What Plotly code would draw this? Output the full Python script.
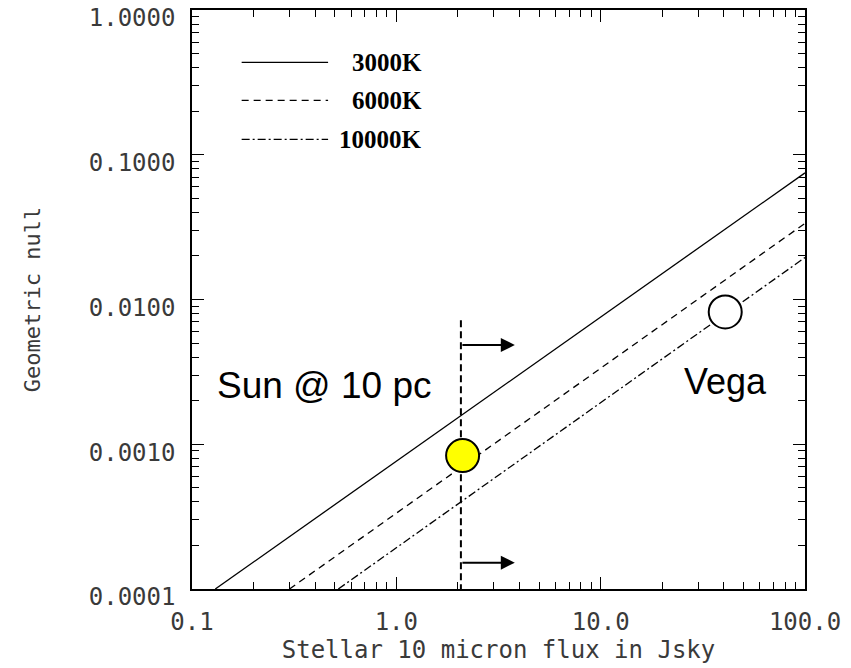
import numpy as np
import plotly.graph_objects as go

# ---- data ----
temps = ["3000K", "6000K", "10000K"]
flux_3000 = [0.13, 100.0]
null_3000 = [0.0001, 0.075]
flux_6000 = [0.30, 100.0]
null_6000 = [0.0001, 0.0336]
flux_10000 = [0.52, 100.0]
null_10000 = [0.0001, 0.0195]

sun_limit_flux = [2.07, 2.07]
sun_limit_null = [0.0072, 0.0001]

arrow_tail_flux = [2.07, 2.07]
arrow_head_flux = [3.8, 3.8]
arrow_null = [0.00485, 0.000152]

star_names = ["Sun @ 10 pc", "Vega"]
star_flux = [2.11, 40.7]
star_null = [0.000835, 0.0082]
star_fill = ["#FFFF00", "#FFFFFF"]

x_major = [0.1, 1, 10, 100]
x_major_text = ["0.1", "1.0", "10.0", "100.0"]
y_major = [0.0001, 0.001, 0.01, 0.1, 1]
y_major_text = ["0.0001", "0.0010", "0.0100", "0.1000", "1.0000"]

x_minor = [m * 10.0 ** e for e in range(-1, 2) for m in range(2, 10)]
y_minor = [m * 10.0 ** e for e in range(-4, 0) for m in range(2, 10)]

tick_font = dict(family="DejaVu Sans Mono", size=24, color="#3a3a3a")
xtitle_font = dict(family="DejaVu Sans Mono", size=24, color="#3a3a3a")
ytitle_font = dict(family="DejaVu Sans Mono", size=22, color="#3a3a3a")

fig = go.Figure()

line_styles = [
    (flux_3000, null_3000, "solid"),
    (flux_6000, null_6000, "7px,5px"),
    (flux_10000, null_10000, "8px,3px,2px,3px"),
]
for name, (xs, ys, dash) in zip(temps, line_styles):
    fig.add_trace(go.Scatter(x=xs, y=ys, mode="lines", name=name,
                             line=dict(color="black", width=1.3, dash=dash),
                             showlegend=False, hoverinfo="skip"))

fig.add_trace(go.Scatter(x=sun_limit_flux, y=sun_limit_null, mode="lines",
                         line=dict(color="black", width=2, dash="7px,4px"),
                         showlegend=False, hoverinfo="skip"))

# stars
fig.add_trace(go.Scatter(x=star_flux, y=star_null, mode="markers",
                         marker=dict(symbol="circle", size=33, color=star_fill,
                                     line=dict(color="black", width=2)),
                         showlegend=False, hoverinfo="skip"))

# invisible trace to hold the major-tick overlay axes
fig.add_trace(go.Scatter(x=[x_major[0]], y=[y_major[0]], mode="markers",
                         marker=dict(opacity=0), xaxis="x2", yaxis="y2",
                         showlegend=False, hoverinfo="skip"))

# arrows
for xt, xh, yv in zip(arrow_tail_flux, arrow_head_flux, arrow_null):
    fig.add_annotation(x=np.log10(xh), y=np.log10(yv), ax=np.log10(xt), ay=np.log10(yv),
                       xref="x", yref="y", axref="x", ayref="y",
                       text="", showarrow=True, arrowhead=2, arrowsize=1.4,
                       arrowwidth=2, arrowcolor="black", standoff=0)

# star labels
fig.add_annotation(x=np.log10(star_flux[0]), y=np.log10(star_null[0]), xref="x", yref="y",
                   text=star_names[0], showarrow=False, xanchor="right", yanchor="middle",
                   xshift=-30, yshift=70,
                   font=dict(family="Liberation Sans", size=37, color="black"))
fig.add_annotation(x=np.log10(star_flux[1]), y=np.log10(star_null[1]), xref="x", yref="y",
                   text=star_names[1], showarrow=False, xanchor="center", yanchor="middle",
                   yshift=-70,
                   font=dict(family="Liberation Sans", size=36, color="black"))

# legend (manual)
leg_y = [0.9094, 0.8438, 0.7765]
leg_dash = ["solid", "7px,5px", "8px,3px,2px,3px"]
for name, yy, dash in zip(temps, leg_y, leg_dash):
    fig.add_shape(type="line", xref="paper", yref="paper",
                  x0=0.081, x1=0.222, y0=yy, y1=yy,
                  line=dict(color="black", width=1.3, dash=dash))
    fig.add_annotation(xref="paper", yref="paper", x=0.378, y=yy, text=name,
                       showarrow=False, xanchor="right", yanchor="middle",
                       font=dict(family="Liberation Serif", size=25, color="black",
                                 weight="bold"))

base = dict(type="log", showgrid=False, zeroline=False, tickmode="array",
            tickcolor="black", ticks="inside", automargin=False)

fig.update_layout(
    xaxis=dict(**base, range=[-1, 2], showline=True, linecolor="black", linewidth=1.5,
               mirror="allticks",
               tickvals=x_major + x_minor,
               ticktext=x_major_text + [""] * len(x_minor),
               ticklen=7, tickwidth=1.2, tickfont=tick_font, ticklabelstandoff=10,
               ticklabeloverflow="allow",
               title=dict(text="Stellar 10 micron flux in Jsky", font=xtitle_font, standoff=4)),
    yaxis=dict(**base, range=[-4, 0], showline=True, linecolor="black", linewidth=1.5,
               mirror="allticks",
               tickvals=y_major + y_minor,
               ticktext=y_major_text + [""] * len(y_minor),
               ticklen=7, tickwidth=1.2, tickfont=tick_font, ticklabelstandoff=10,
               ticklabelshift=8, ticklabeloverflow="allow",
               title=dict(text="Geometric null", font=ytitle_font, standoff=42)),
    xaxis2=dict(**base, range=[-1, 2], overlaying="x", side="bottom", anchor="y",
                showline=False, mirror="allticks", tickvals=x_major,
                ticklen=12, tickwidth=1.3, showticklabels=False),
    yaxis2=dict(**base, range=[-4, 0], overlaying="y", side="left", anchor="x",
                showline=False, mirror="allticks", tickvals=y_major,
                ticklen=12, tickwidth=1.3, showticklabels=False),
)

fig.update_layout(width=851, height=668, plot_bgcolor="white", paper_bgcolor="white",
                  margin=dict(l=192, r=46, t=10, b=79), showlegend=False)

fig.write_html("out.html", config={"displayModeBar": False},
               post_script="document.body.style.margin = '0';")
